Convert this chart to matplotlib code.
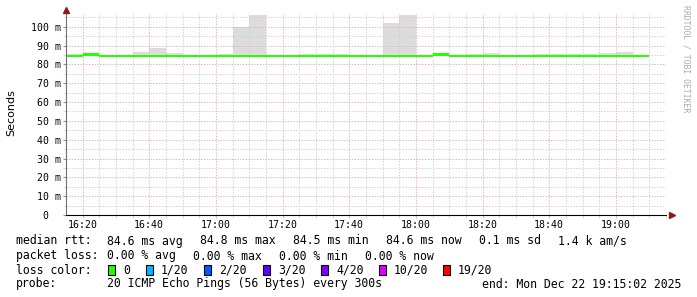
import datetime as dt
import matplotlib
matplotlib.use("Agg")
import matplotlib.pyplot as plt
import matplotlib.dates as mdates
from matplotlib.patches import Rectangle
from matplotlib.ticker import MultipleLocator, FuncFormatter

W, H = 697, 297  # output size in pixels

# 5-minute bins starting 16:15, last one 19:10
start = dt.datetime(2025, 12, 22, 16, 15)
bin_starts = [start + dt.timedelta(minutes=5 * i) for i in range(35)]
bin_edges = bin_starts + [bin_starts[-1] + dt.timedelta(minutes=5)]

# median rtt per bin (ms)
median_ms = [84.6, 85.3, 84.6, 84.6, 84.6, 84.6, 84.6, 84.6, 84.6, 84.6,
             84.6, 84.6, 84.6, 84.6, 84.6, 84.6, 84.6, 84.6, 84.6, 84.6,
             84.6, 84.6, 85.3, 84.6, 84.6, 84.6, 84.6, 84.6, 84.6, 84.6,
             84.6, 84.6, 84.6, 84.6, 84.6]
# highest ping per bin (ms) -> top of the grey smoke
smoke_max_ms = [85.6, 85.8, 84.6, 84.6, 86.7, 88.8, 86.1, 84.6, 84.6, 85.6,
                99.6, 106.4, 84.6, 84.6, 85.4, 85.4, 85.4, 84.6, 84.6, 102.1,
                106.4, 84.6, 85.6, 84.6, 85.6, 86.1, 84.6, 84.6, 85.3, 85.3,
                85.3, 85.3, 86.1, 86.7, 84.6]

loss_labels = ["0", "1/20", "2/20", "3/20", "4/20", "10/20", "19/20"]
loss_colors = ["#26ff00", "#00b8ff", "#0059ff", "#5e00ff", "#7e00ff", "#dd00ff", "#ff0000"]

legend_rows = [
    [(16, "median rtt:"), (107, "84.6 ms avg"), (200, "84.8 ms max"), (293, "84.5 ms min"),
     (386, "84.6 ms now"), (479, "0.1 ms sd"), (558, "1.4 k am/s")],
    [(16, "packet loss:"), (107, "0.00 % avg"), (193, "0.00 % max"), (279, "0.00 % min"),
     (365, "0.00 % now")],
    [(16, "loss color:")],
    [(16, "probe:"), (107, "20 ICMP Echo Pings (56 Bytes) every 300s")],
]
legend_y = [241, 256, 270, 284]
end_text = "end: Mon Dec 22 19:15:02 2025"

MONO = "DejaVu Sans Mono"


def fx(px):
    return px / W


def fy(py):
    return 1 - py / H


fig = plt.figure(figsize=(W / 100, H / 100), dpi=100, facecolor="white")
ax = fig.add_axes([fx(66), fy(215), (666 - 66) / W, (215 - 13) / H])
ax.set_facecolor("white")

smoke_y = smoke_max_ms + [smoke_max_ms[-1]]
med_y = median_ms + [median_ms[-1]]
ax.fill_between(bin_edges, [m - 0.3 for m in med_y], smoke_y, step="post",
                color="#dcdcdc", lw=0, zorder=1)
ax.fill_between(bin_edges, [m - 0.65 for m in med_y], [m + 0.65 for m in med_y],
                step="post", color="#26ff00", lw=0, zorder=3)

x0 = dt.datetime(2025, 12, 22, 16, 15, 2)
x1 = dt.datetime(2025, 12, 22, 19, 15, 2)
ax.set_xlim(x0, x1)
ax.set_ylim(0, 107.3)

ax.xaxis.set_major_locator(mdates.MinuteLocator(byminute=[0, 20, 40]))
ax.xaxis.set_minor_locator(mdates.MinuteLocator(byminute=range(0, 60, 5)))
ax.xaxis.set_major_formatter(mdates.DateFormatter("%H:%M"))
ax.yaxis.set_major_locator(MultipleLocator(10))
ax.yaxis.set_minor_locator(MultipleLocator(5))
ax.yaxis.set_major_formatter(FuncFormatter(lambda v, p: "  0  " if v == 0 else f"{v:3.0f} m"))

ax.set_axisbelow(False)
ax.grid(which="major", color="#ebb4b4", lw=0.72, ls=(0, (1.4, 1.4)), zorder=2)
ax.grid(which="minor", color="#d2d2d2", lw=0.72, ls=(0, (1.4, 1.4)), zorder=2)

for s in ["top", "right"]:
    ax.spines[s].set_visible(False)
ax.spines["left"].set_color("#707070")
ax.spines["bottom"].set_color("black")
ax.spines["left"].set_zorder(4)
ax.spines["bottom"].set_zorder(4)

ax.tick_params(axis="x", which="major", length=2.2, color="#ebb4b4", pad=1.5,
               labelsize=7.1, labelcolor="black")
ax.tick_params(axis="x", which="minor", length=2.2, color="#d2d2d2")
ax.tick_params(axis="y", which="major", length=2.2, color="#909090", pad=(35 - 3) / 1.389,
               labelsize=7.1, labelcolor="black")
ax.tick_params(axis="y", which="minor", length=2.2, color="#d2d2d2")
for lab in ax.get_xticklabels() + ax.get_yticklabels():
    lab.set_fontfamily(MONO)
for lab in ax.get_yticklabels():
    lab.set_horizontalalignment("left")

# axis arrows
ax.plot([0], [1 + 3.3 / 202], marker="^", ms=4.2, color="#8b1a1a", mec="#8b1a1a",
        transform=ax.transAxes, clip_on=False, zorder=5)
ax.plot([1 + 6 / 600], [0], marker=">", ms=4.2, color="#8b1a1a", mec="#8b1a1a",
        transform=ax.transAxes, clip_on=False, zorder=5)

fig.text(fx(11), fy(113), "Seconds", rotation=90, ha="center", va="center",
         fontsize=8, family="DejaVu Sans")
fig.text(fx(686), fy(5), "RRDTOOL / TOBI OETIKER", rotation=270, ha="center", va="top",
         fontsize=5.9, family=MONO, color="#aaaaaa")

for row, y in zip(legend_rows, legend_y):
    for x, s in row:
        fig.text(fx(x), fy(y), s, ha="left", va="center", fontsize=8.3, family=MONO)
fig.text(fx(681), fy(legend_y[3]), end_text, ha="right", va="center", fontsize=8.3, family=MONO)

box_x = [108, 146, 204, 263, 321, 379, 443]
for bx, lab, col in zip(box_x, loss_labels, loss_colors):
    fig.patches.append(Rectangle((fx(bx), fy(legend_y[2] + 5)), 7 / W, 10 / H,
                                 transform=fig.transFigure, facecolor=col,
                                 edgecolor="black", lw=0.8))
    fig.text(fx(bx + 15), fy(legend_y[2]), lab, ha="left", va="center",
             fontsize=8.3, family=MONO)

fig.savefig("out.png", dpi=100, facecolor="white")
